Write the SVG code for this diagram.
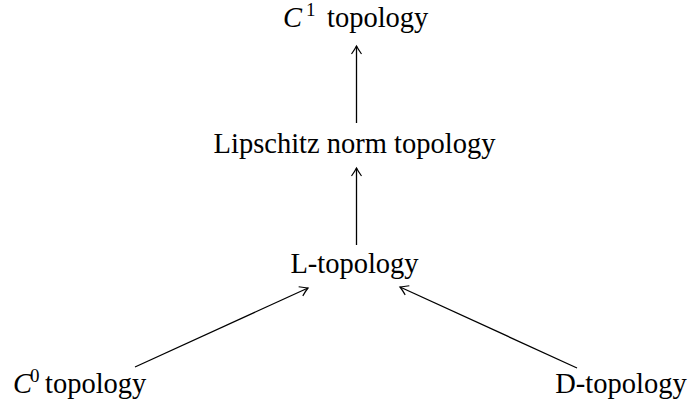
<svg xmlns="http://www.w3.org/2000/svg" width="691" height="407" viewBox="0 0 691 407">
<style>
.t{font-family:"Liberation Serif","Times New Roman",serif;font-size:28.5px;fill:#000}
.i{font-style:italic}
.s{font-size:19px}
.e{stroke:#000;stroke-width:1.3;fill:none}
</style>
<defs>
<marker id="ah" markerUnits="userSpaceOnUse" markerWidth="20" markerHeight="20" viewBox="-10 -10 20 20" refX="0" refY="0" orient="auto">
<path d="M-8,-5 Q-3,-1.5 0,0 Q-3,1.5 -8,5" fill="none" stroke="#000" stroke-width="1.2"/>
</marker>
</defs>
<rect width="691" height="407" fill="#fff"/>
<g id="connectors">
<line class="e" x1="356.5" y1="123" x2="356.5" y2="46" marker-end="url(#ah)"/>
<line class="e" x1="356.5" y1="245" x2="356.5" y2="168" marker-end="url(#ah)"/>
<line class="e" x1="135" y1="367" x2="308" y2="288" marker-end="url(#ah)"/>
<line class="e" x1="577" y1="368" x2="400" y2="287" marker-end="url(#ah)"/>
</g>
<g id="c1">
<text class="t" y="27"><tspan class="i" x="283">C</tspan><tspan class="s" x="306" y="16">1</tspan><tspan x="327" y="27">topology</tspan></text>
</g>
<g id="lipschitz">
<text class="t" x="354.5" y="153" text-anchor="middle">Lipschitz norm topology</text>
</g>
<g id="ltop">
<text class="t" x="354.5" y="273" text-anchor="middle">L-topology</text>
</g>
<g id="c0">
<text class="t" y="393"><tspan class="i" x="13">C</tspan><tspan class="s" x="30" y="382">0</tspan><tspan x="45" y="393">topology</tspan></text>
</g>
<g id="dtop">
<text class="t" x="621" y="393" text-anchor="middle">D-topology</text>
</g>
</svg>
